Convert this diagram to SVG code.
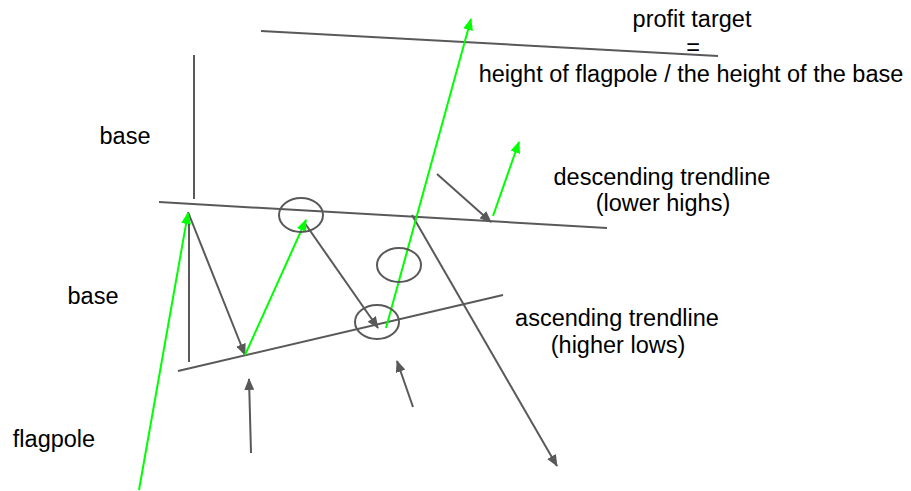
<svg xmlns="http://www.w3.org/2000/svg" width="911" height="491" viewBox="0 0 911 491">
<style>
.g{stroke:#595959;stroke-width:2;fill:none}
.a{stroke:#595959;stroke-width:2;fill:none;marker-end:url(#mg)}
.n{stroke:#00ff00;stroke-width:2;fill:none;marker-end:url(#mn)}
.e{stroke:#595959;stroke-width:2;fill:none}
text{font-family:"Liberation Sans",Arial,sans-serif;font-size:23.5px;fill:#000;text-anchor:middle}
</style>
<defs>
<marker id="mg" markerUnits="userSpaceOnUse" markerWidth="12" markerHeight="10" viewBox="0 0 12 10" refX="11" refY="5" orient="auto"><path d="M0,0 L12,5 L0,10 z" fill="#595959"/></marker>
<marker id="mn" markerUnits="userSpaceOnUse" markerWidth="12" markerHeight="10" viewBox="0 0 12 10" refX="11" refY="5" orient="auto"><path d="M0,0 L12,5 L0,10 z" fill="#00ff00"/></marker>
</defs>
<rect width="911" height="491" fill="#fff"/>
<g id="connectors">
<line class="g" x1="261" y1="31" x2="718" y2="56"/>
<line class="g" x1="194" y1="55" x2="194" y2="199"/>
<line class="g" x1="159" y1="202" x2="607" y2="228"/>
<line class="g" x1="189" y1="219" x2="189" y2="362"/>
<line class="g" x1="178" y1="371" x2="503" y2="295"/>
<line class="a" x1="188" y1="212" x2="245" y2="355"/>
<line class="a" x1="304" y1="222" x2="378" y2="328"/>
<line class="a" x1="412" y1="215" x2="557" y2="466"/>
<line class="a" x1="437" y1="174" x2="491" y2="222"/>
<line class="a" x1="251" y1="453" x2="249" y2="379"/>
<line class="a" x1="413" y1="407" x2="397" y2="361"/>
<line class="n" x1="139" y1="490" x2="188" y2="213"/>
<line class="n" x1="245" y1="355" x2="306" y2="220"/>
<line class="n" x1="386" y1="328" x2="471" y2="19"/>
<line class="n" x1="493" y1="216" x2="519" y2="142"/>
</g>
<g id="circle1"><ellipse class="e" cx="301" cy="215" rx="22" ry="17"/></g>
<g id="circle2"><ellipse class="e" cx="399" cy="265" rx="22" ry="17"/></g>
<g id="circle3"><ellipse class="e" cx="377" cy="322" rx="22" ry="17"/></g>
<g id="profit-target">
<text x="692" y="27">profit target</text>
<text x="693" y="55">=</text>
<text x="691" y="82">height of flagpole / the height of the base</text>
</g>
<g id="base-upper"><text x="125" y="144">base</text></g>
<g id="base-lower"><text x="93" y="304">base</text></g>
<g id="flagpole"><text x="54" y="447">flagpole</text></g>
<g id="descending">
<text x="662" y="185">descending trendline</text>
<text x="663" y="211">(lower highs)</text>
</g>
<g id="ascending">
<text x="617" y="326">ascending trendline</text>
<text x="618" y="353">(higher lows)</text>
</g>
</svg>
